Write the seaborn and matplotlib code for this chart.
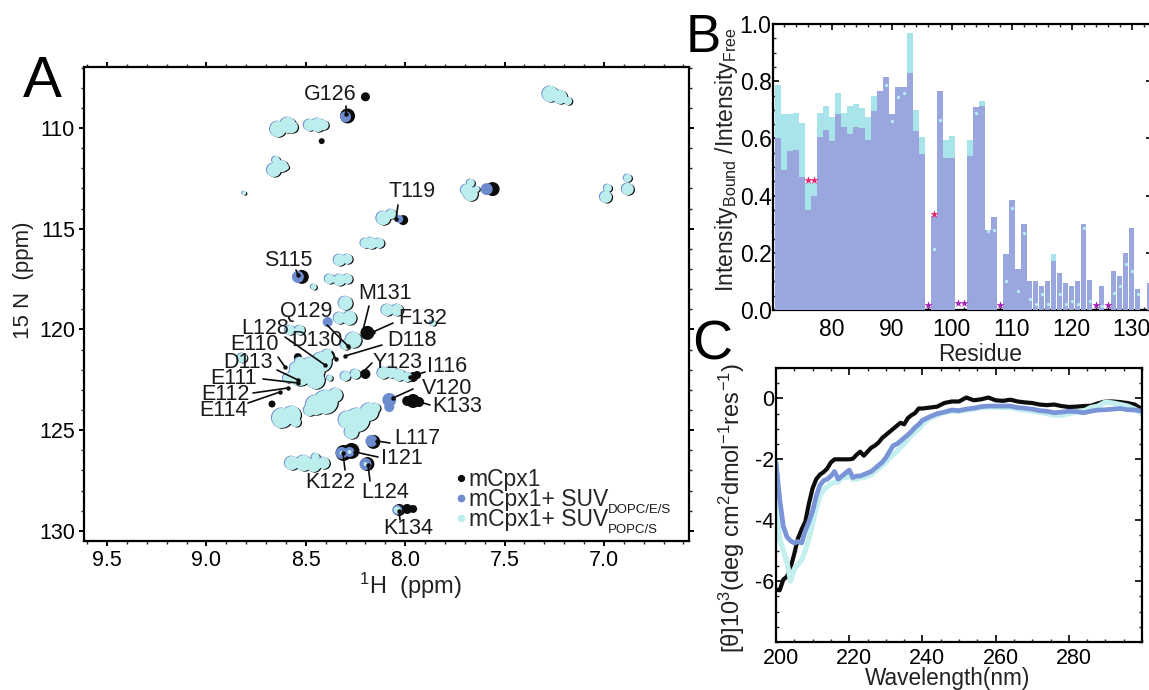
import matplotlib
matplotlib.use("Agg")
import matplotlib.pyplot as plt
from matplotlib.lines import Line2D
from matplotlib.ticker import MultipleLocator
from matplotlib.transforms import ScaledTranslation
import numpy as np
import seaborn as sns

sns.set_theme(style="ticks")
plt.rcParams["font.family"] = ["Liberation Sans", "DejaVu Sans"]
plt.rcParams["mathtext.fontset"] = "custom"
plt.rcParams["mathtext.rm"] = "Liberation Sans"
plt.rcParams["mathtext.default"] = "rm"

W, H = 1149, 690
BLACK = "#0c0c0c"
BLUE = "#6d8bcf"
CYAN = "#bdeeee"

# panel A, peaks (1H ppm, 15N ppm, radius on the page)
cyan_h = [7.27, 7.22, 7.18, 8.64, 8.59, 8.57, 8.48, 8.44, 8.41, 8.66, 8.62, 8.65, 8.60, 8.81,
          7.69, 7.67, 7.67, 7.64, 6.99, 6.98, 6.88, 6.88, 8.11, 8.07, 8.20, 8.17, 8.13, 8.33, 8.29,
          8.38, 8.33, 8.29, 8.46, 8.30, 8.33, 8.28, 8.09, 8.04, 7.86, 8.58, 8.53, 8.26, 8.30, 8.82,
          8.53, 8.47, 8.42, 8.45, 8.55, 8.39, 8.59, 8.53, 8.30, 8.25, 8.38, 8.11, 8.07, 8.03, 7.99,
          8.45, 8.40, 8.35, 8.48, 8.62, 8.57, 8.63, 8.55, 8.29, 8.24, 8.18, 8.27, 8.15,
          8.57, 8.51, 8.46, 8.41, 8.45]
cyan_n = [108.31, 108.46, 108.66, 110.05, 109.85, 109.95, 109.85, 109.85, 109.85, 112.08, 111.89, 111.59, 111.94, 113.23,
          113.08, 112.73, 113.28, 113.03, 113.42, 112.98, 113.03, 112.48, 114.47, 114.27, 115.71, 115.71, 115.71, 116.55, 116.50,
          117.49, 117.54, 117.49, 117.89, 118.69, 119.43, 119.43, 119.03, 119.03, 119.68, 120.03, 120.03, 120.52, 120.77, 121.41,
          122.26, 122.01, 121.61, 122.51, 121.91, 121.27, 122.41, 121.61, 122.31, 122.21, 122.41, 122.16, 122.11, 122.26, 122.36,
          123.75, 123.60, 123.25, 124.00, 124.39, 124.24, 124.59, 124.59, 124.49, 124.49, 124.09, 125.09, 123.90,
          126.63, 126.63, 126.73, 126.63, 126.33]
cyan_r = [8, 7, 4, 8, 8, 6, 6, 7, 5, 7, 6, 4, 3, 2,
          6, 4, 7, 3, 6, 4, 6, 4, 7, 5, 5, 6, 5, 6, 5,
          5, 6, 5, 3, 7, 6, 7, 6, 6, 3, 5, 5, 8, 5, 5,
          11, 13, 10, 9, 6, 6, 5, 5, 5, 5, 3, 6, 6, 6, 5,
          10, 12, 7, 6, 10, 9, 6, 5, 9, 12, 9, 7, 5,
          7, 8, 7, 6, 4]

blue_h = [8.30, 8.03, 7.59, 8.54, 8.39, 8.08, 8.08, 8.17, 8.32, 8.28, 8.20, 8.04]
blue_n = [109.44, 114.52, 113.03, 117.39, 119.63, 123.50, 123.85, 125.53, 126.13, 126.08, 126.68, 128.96]
blue_r = [5.5, 4, 6, 6, 5, 7, 5, 6, 6, 5, 6, 5]

black_h = [8.29, 8.20, 8.42, 8.67, 7.56, 8.52, 8.01, 8.19, 8.54, 7.96, 7.94, 8.20, 7.99, 7.96, 7.93,
           8.16, 8.27, 8.31, 8.19, 8.03, 7.99, 7.96]
black_n = [109.40, 108.45, 110.65, 123.70, 113.03, 117.39, 114.57, 120.17, 121.37, 122.36, 122.26, 122.21, 123.55, 123.55, 123.60,
           125.58, 126.03, 126.13, 126.68, 128.96, 128.91, 128.91]
black_r = [7.5, 4.5, 3, 3.5, 7, 7, 5, 7, 4, 5, 4, 5, 5, 7, 5,
           7, 8, 8, 7, 6, 5, 4]

core_h = [8.32, 8.28, 8.20, 8.04]
core_n = [126.13, 126.08, 126.68, 128.96]
core_r = [2, 2, 2, 3.5]

# label, text centre, leader start, leader end (page pixels)
peak_labels = ["G126", "T119", "S115", "M131", "F132", "Q129", "L128", "D130", "D118", "Y123", "I116",
               "E110", "D113", "E111", "E112", "E114", "V120", "K133", "L117", "I121", "K122", "L124", "K134"]
label_xy = [(330, 94), (412, 192), (288, 261), (385, 293), (423, 319), (306, 311), (265, 328), (317, 340), (412, 341),
            (398, 362), (447, 367), (255, 345), (248, 362), (234, 379), (225, 395), (223, 411), (447, 389), (457, 406),
            (417, 439), (402, 459), (330, 482), (385, 493), (408, 529)]
lead_from = [(346, 106), (398, 205), (296, 270), (369, 306), (393, 323), (327, 325), (285, 337), (332, 352), (382, 345),
             (372, 363), (425, 372), (278, 357), (277, 370), (263, 379), (253, 393), (248, 403), (413, 389), (430, 405),
             (390, 443), (378, 457), (345, 470), (370, 481), (400, 520)]
lead_to = [(346, 114), (396, 219), (298, 275), (363, 330), (373, 332), (348, 346), (325, 365), (336, 359), (345, 356),
           (362, 373), (410, 377), (285, 367), (298, 380), (298, 383), (288, 388), (280, 392), (393, 398), (420, 402),
           (377, 441), (355, 452), (343, 453), (368, 465), (399, 511)]

# panel B
residues = list(range(71, 134))
bound_dopc = [.60, .49, .555, .56, .465, .35, .40, .605, .63, .59, .685, .64, .615, .64, .635, .595, .695, .765, .815, .685,
              .78, .78, .83, .625, .545, 0, .33, .765, .53, .53, 0, 0, .54, .71, .715, .28, .325, 0, .195, .385,
              .145, .30, .10, .10, .085, .10, .17, .13, .095, .085, .10, .30, .105, 0, .085, 0, .135, .12, .20, .285,
              .075, 0, .095]
bound_popc = [.785, .685, .685, .69, .655, .445, .445, .69, .715, .675, .76, .69, .715, .72, .705, .675, .75, .765, .785, .66,
              .745, .76, .97, .70, .605, 0, .215, .665, .595, .61, 0, 0, .595, .69, .73, .275, .28, 0, .10, .355,
              .065, .27, .04, .02, .055, .02, .195, .055, .02, .03, .02, .285, .03, 0, .015, 0, .06, .085, .16, .135,
              .055, 0, .025]
red_res = [76, 77, 97]
red_val = [.455, .455, .335]
purple_res = [96, 101, 102, 108, 124, 126]
purple_val = [.017, .025, .025, .018, .018, .018]

# panel C
wavelength = list(range(200, 241)) + list(range(242, 301, 2))
cd_free = [-6.28, -6.3, -5.95, -5.85, -5.55, -5.1, -4.6, -4.3, -4.05, -3.45, -2.95, -2.65, -2.5, -2.42, -2.3, -2.1, -2.0,
           -2.0, -2.0, -2.0, -2.0, -1.98, -1.85, -1.75, -1.88, -1.75, -1.62, -1.55, -1.45, -1.3, -1.2, -1.1, -1.0, -.9,
           -.8, -.85, -.65, -.55, -.48, -.33, -.33,
           -.3, -.27, -.15, -.1, -.1, .03, -.06, -.03, .03, -.06, -.08, -.04, -.1, -.13, -.15, -.2, -.22, -.2, -.25,
           -.28, -.27, -.25, -.24, -.16, -.1, -.1, -.12, -.15, -.2, -.35]
cd_dopc = [-2.1, -3.3, -4.2, -4.55, -4.68, -4.75, -4.7, -4.75, -4.35, -4.05, -3.7, -3.2, -2.85, -2.7, -2.65, -2.55, -2.4,
           -2.65, -2.55, -2.45, -2.35, -2.6, -2.55, -2.55, -2.5, -2.45, -2.4, -2.3, -2.2, -2.1, -1.95, -1.75, -1.55, -1.5,
           -1.4, -1.3, -1.2, -1.08, -.95, -.85, -.72,
           -.6, -.5, -.45, -.38, -.4, -.35, -.32, -.27, -.25, -.25, -.25, -.25, -.3, -.32, -.35, -.4, -.42, -.47, -.45,
           -.42, -.43, -.47, -.42, -.38, -.37, -.35, -.33, -.37, -.38, -.42]
cd_popc = [-3.2, -4.6, -5.0, -5.4, -6.0, -5.6, -5.45, -5.3, -5.0, -4.6, -4.1, -3.6, -3.2, -3.0, -2.9, -2.8, -2.75,
           -2.75, -2.6, -2.6, -2.55, -2.65, -2.65, -2.6, -2.6, -2.55, -2.5, -2.4, -2.3, -2.2, -2.1, -1.95, -1.85, -1.75,
           -1.6, -1.5, -1.35, -1.2, -1.1, -1.0, -.85,
           -.65, -.55, -.45, -.42, -.42, -.38, -.35, -.3, -.28, -.28, -.3, -.3, -.35, -.38, -.42, -.45, -.5, -.55, -.55,
           -.5, -.45, -.42, -.3, -.25, -.12, -.15, -.2, -.25, -.35, -.5]


def page(px, py):
    return px / W, 1 - py / H


def px_axes(left, top, right, bottom):
    return fig.add_axes([left / W, 1 - bottom / H, (right - left) / W, (bottom - top) / H])


def peaks(ax, h, n, r, color):
    s = (1.44 * np.array(r)) ** 2
    sns.scatterplot(x=h, y=n, s=s, color=color, linewidth=0, ax=ax, legend=False, zorder=3)


fig = plt.figure(figsize=(W / 100, H / 100), dpi=100)

# A
ax_a = px_axes(84, 67, 689, 541)
peaks(ax_a, black_h, black_n, black_r, BLACK)
peaks(ax_a, list(np.array(cyan_h) - 0.006), list(np.array(cyan_n) + 0.03), cyan_r, BLACK)
peaks(ax_a, blue_h, blue_n, blue_r, BLUE)
peaks(ax_a, list(np.array(cyan_h) + 0.005), list(np.array(cyan_n) - 0.02), cyan_r, BLUE)
peaks(ax_a, cyan_h, cyan_n, cyan_r, CYAN)
peaks(ax_a, core_h, core_n, core_r, CYAN)
ax_a.set_xlim(9.616, 6.572)
ax_a.set_ylim(130.5, 106.97)
ax_a.set_xticks([9.5, 9.0, 8.5, 8.0, 7.5, 7.0])
ax_a.set_xticklabels(["9.5", "9.0", "8.5", "8.0", "7.5", "7.0"])
ax_a.set_yticks([110, 115, 120, 125, 130])
ax_a.xaxis.set_minor_locator(MultipleLocator(0.1))
ax_a.yaxis.set_minor_locator(MultipleLocator(1))
ax_a.tick_params(which="major", direction="out", length=3.5, width=1.4, top=True, right=True, labelsize=15.5, colors="black", pad=3)
ax_a.tick_params(which="minor", direction="out", length=2, width=1, top=True, right=True)
ax_a.set_xlabel("$^{1}$H  (ppm)", fontsize=17, va="center", color="#222222")
ax_a.xaxis.set_label_coords(*page(410, 586), transform=fig.transFigure)
ax_a.set_ylabel("15 N  (ppm)", fontsize=16, va="center", color="#222222")
ax_a.yaxis.set_label_coords(*page(23, 280), transform=fig.transFigure)

for name, xy, p0, p1 in zip(peak_labels, label_xy, lead_from, lead_to):
    ax_a.annotate("", xy=page(*p1), xytext=page(*p0), xycoords="figure fraction", textcoords="figure fraction",
                  arrowprops=dict(arrowstyle="-", color=BLACK, lw=1.2, shrinkA=0, shrinkB=0), zorder=5)
    ax_a.plot(*page(*p1), "o", ms=2.2, color=BLACK, transform=fig.transFigure, zorder=5, clip_on=False)
    ax_a.annotate(name, xy=page(*xy), xycoords="figure fraction", ha="center", va="center", fontsize=15.5,
                  color="#1a1a1a", zorder=6)

handles = [Line2D([], [], ls="", marker="o", ms=4.2, color=BLACK),
           Line2D([], [], ls="", marker="o", ms=4.5, color=BLUE),
           Line2D([], [], ls="", marker="o", ms=4.5, color=CYAN)]
ax_a.legend(handles, ["mCpx1", "mCpx1+ SUV", "mCpx1+ SUV"], frameon=False, fontsize=16.5,
            loc="lower left", bbox_to_anchor=page(455, 531), bbox_transform=fig.transFigure, borderpad=0, borderaxespad=0,
            labelspacing=-0.14, handletextpad=0.1, handlelength=0.5)
fig.text(*page(608, 510), "DOPC/E/S", fontsize=9.5, ha="left", va="center", color="#1a1a1a")
fig.text(*page(608, 530), "POPC/S", fontsize=9.5, ha="left", va="center", color="#1a1a1a")

# B
ax_b = px_axes(773, 24, 1152, 310)
sns.barplot(x=residues, y=bound_popc, native_scale=True, width=0.945, color="#a9e4ea", saturation=1, linewidth=0, edgecolor="none", ax=ax_b, zorder=2)
sns.barplot(x=residues, y=bound_dopc, native_scale=True, width=0.945, color="#9aa6de", saturation=1, linewidth=0, edgecolor="none", ax=ax_b, zorder=3)
dot_res = [r for r, c, b in zip(residues, bound_popc, bound_dopc) if 0 < c < b]
dot_val = [c for c, b in zip(bound_popc, bound_dopc) if 0 < c < b]
sns.scatterplot(x=dot_res, y=dot_val, color="#b5eef0", s=6, linewidth=0, ax=ax_b, zorder=4)
sns.scatterplot(x=red_res, y=red_val, color="#e8246e", marker="*", s=38, linewidth=0, ax=ax_b, zorder=5)
sns.scatterplot(x=purple_res, y=purple_val, color="#a321b5", marker="*", s=38, linewidth=0, ax=ax_b, zorder=5)
ax_b.set_xlim(70.2, 133.4)
ax_b.set_ylim(0, 1)
ax_b.set_xticks([80, 90, 100, 110, 120, 130])
ax_b.set_xticklabels(["80", "90", "100", "110", "120", "130"])
ax_b.set_yticks([0, .2, .4, .6, .8, 1.0])
ax_b.set_yticklabels(["0.0", "0.2", "0.4", "0.6", "0.8", "1.0"])
ax_b.xaxis.set_minor_locator(MultipleLocator(2))
ax_b.yaxis.set_minor_locator(MultipleLocator(0.05))
ax_b.tick_params(which="major", direction="in", length=4, width=1.2, top=True, right=True, labelsize=16.5, colors="black")
ax_b.tick_params(axis="x", which="major", pad=6)
ax_b.tick_params(axis="y", which="major", pad=1)
ax_b.tick_params(which="minor", direction="in", length=2, width=1, top=True, right=True)
ax_b.set_xlabel("Residue", fontsize=16.5, va="center", color="#222222")
ax_b.xaxis.set_label_coords(*page(980, 355), transform=fig.transFigure)
ax_b.set_ylabel("Intensity$_{Bound}$ /Intensity$_{Free}$", fontsize=16.5, va="center", color="#222222")
ax_b.yaxis.set_label_coords(*page(726, 160), transform=fig.transFigure)

# C
ax_c = px_axes(776, 368, 1142, 642)
sns.lineplot(x=wavelength, y=cd_free, color=BLACK, linewidth=3, ax=ax_c)
sns.lineplot(x=wavelength, y=cd_popc, color="#c3f0ef", linewidth=3.8, ax=ax_c)
sns.lineplot(x=wavelength, y=cd_dopc, color="#7a94d8", linewidth=3.4, ax=ax_c)
ax_c.set_xlim(200, 300)
ax_c.set_ylim(-8, 1)
ax_c.set_xticks([200, 220, 240, 260, 280])
ax_c.set_yticks([0, -2, -4, -6])
ax_c.set_yticklabels(["0", "-2", "-4", "-6"])
ax_c.xaxis.set_minor_locator(MultipleLocator(5))
ax_c.yaxis.set_minor_locator(MultipleLocator(0.5))
ax_c.tick_params(which="major", direction="in", length=5, width=1.2, top=True, right=True, labelsize=15.5, colors="black")
ax_c.tick_params(axis="x", which="major", pad=4)
ax_c.tick_params(axis="y", which="major", pad=1.5)
ax_c.tick_params(which="minor", direction="in", length=2.5, width=1, top=True, right=True)
for lab in ax_c.get_xticklabels():
    lab.set_transform(lab.get_transform() + ScaledTranslation(0.05, 0, fig.dpi_scale_trans))
ax_c.set_xlabel("Wavelength(nm)", fontsize=16.3, va="center", color="#222222")
ax_c.xaxis.set_label_coords(*page(948, 678), transform=fig.transFigure)
ax_c.set_ylabel("[θ]10$^{3}$(deg cm$^{2}$dmol$^{-1}$res$^{-1}$)", fontsize=17, va="center", color="#222222")
ax_c.yaxis.set_label_coords(*page(732, 508), transform=fig.transFigure)

for ax in [ax_a, ax_b, ax_c]:
    for spine in ax.spines.values():
        spine.set_linewidth(1.6)
        spine.set_color("black")

fig.text(*page(42, 82), "A", fontsize=42, ha="center", va="center", color="black")
fig.text(*page(703, 38), "B", fontsize=38, ha="center", va="center", color="black")
fig.text(*page(712, 346), "C", fontsize=40, ha="center", va="center", color="black")

fig.savefig("out.png", dpi=100)
